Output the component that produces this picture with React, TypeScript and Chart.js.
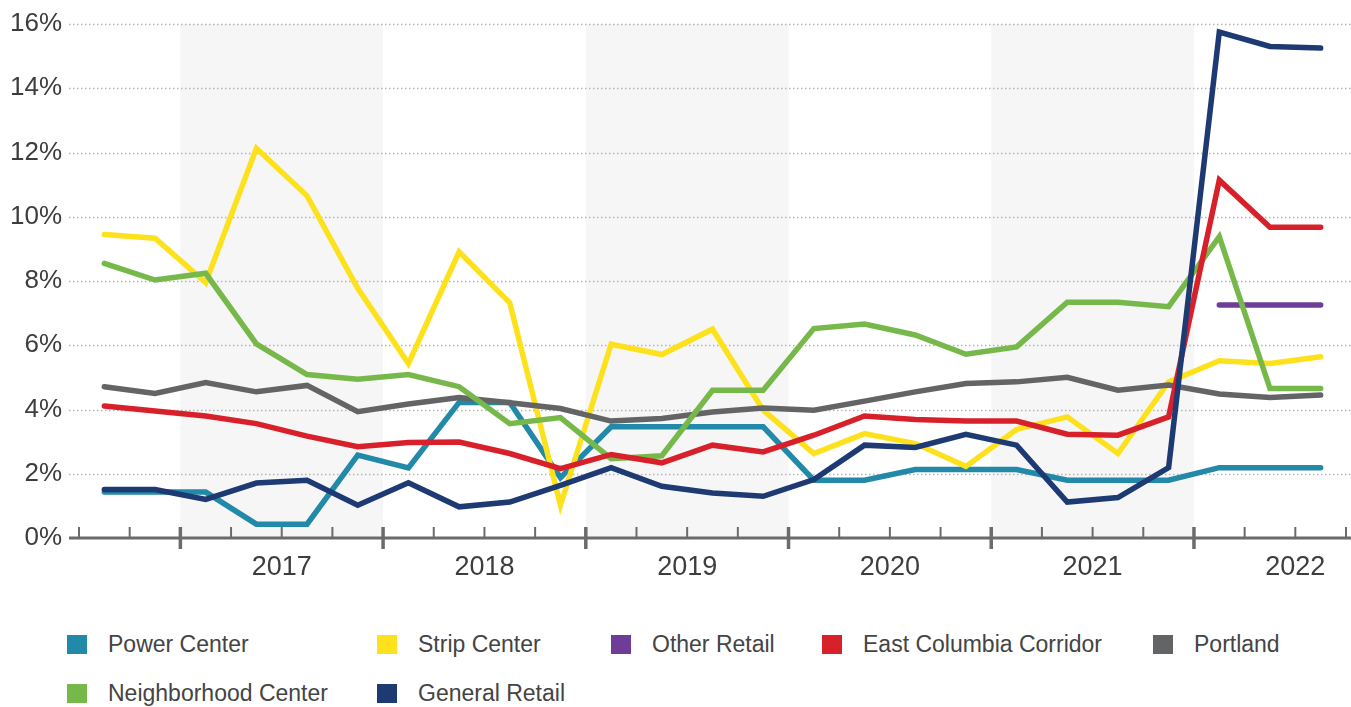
import React, { useEffect, useRef } from 'react';
import { Chart, registerables } from 'chart.js';

Chart.register(...registerables);

// ---- data ----
const quarters = [
  '2016 Q3', '2016 Q4',
  '2017 Q1', '2017 Q2', '2017 Q3', '2017 Q4',
  '2018 Q1', '2018 Q2', '2018 Q3', '2018 Q4',
  '2019 Q1', '2019 Q2', '2019 Q3', '2019 Q4',
  '2020 Q1', '2020 Q2', '2020 Q3', '2020 Q4',
  '2021 Q1', '2021 Q2', '2021 Q3', '2021 Q4',
  '2022 Q1', '2022 Q2', '2022 Q3',
];
const yearLabels = ['2017', '2018', '2019', '2020', '2021', '2022'];
const shadedYears = ['2017', '2019', '2021'];
const yTickValues = [0, 2, 4, 6, 8, 10, 12, 14, 16];

const powerCenter = [1.43, 1.43, 1.43, 0.43, 0.43, 2.58, 2.18, 4.22, 4.22, 1.88, 3.46, 3.46, 3.46, 3.46, 1.8, 1.8, 2.13, 2.13, 2.13, 1.8, 1.8, 1.8, 2.19, 2.19, 2.19];
const stripCenter = [9.45, 9.33, 7.95, 12.13, 10.65, 7.77, 5.43, 8.91, 7.32, 1.02, 6.03, 5.71, 6.5, 3.98, 2.63, 3.25, 2.94, 2.23, 3.38, 3.77, 2.63, 4.86, 5.52, 5.43, 5.64];
const otherRetail = [null, null, null, null, null, null, null, null, null, null, null, null, null, null, null, null, null, null, null, null, null, null, 7.25, 7.25, 7.25];
const eastColumbia = [4.11, 3.95, 3.8, 3.56, 3.17, 2.84, 2.97, 2.99, 2.63, 2.16, 2.6, 2.34, 2.89, 2.68, 3.2, 3.8, 3.69, 3.64, 3.64, 3.23, 3.2, 3.77, 11.14, 9.67, 9.67];
const portland = [4.71, 4.5, 4.84, 4.55, 4.75, 3.93, 4.17, 4.37, 4.21, 4.03, 3.64, 3.72, 3.92, 4.05, 3.98, 4.26, 4.55, 4.81, 4.86, 5.0, 4.6, 4.76, 4.48, 4.37, 4.45];
const neighborhood = [8.55, 8.03, 8.24, 6.04, 5.09, 4.94, 5.09, 4.71, 3.56, 3.75, 2.47, 2.56, 4.6, 4.6, 6.52, 6.66, 6.32, 5.72, 5.95, 7.34, 7.34, 7.2, 9.38, 4.65, 4.65];
const generalRetail = [1.51, 1.51, 1.2, 1.71, 1.8, 1.02, 1.72, 0.97, 1.12, 1.64, 2.19, 1.61, 1.4, 1.3, 1.82, 2.89, 2.82, 3.23, 2.89, 1.12, 1.26, 2.19, 15.75, 15.3, 15.25];

const seriesNames = ['Power Center', 'Strip Center', 'Other Retail', 'East Columbia Corridor', 'Portland', 'Neighborhood Center', 'General Retail'];
const seriesColors = ['#2289a8', '#fde11c', '#6e3d98', '#d8202b', '#636466', '#77b84b', '#1e3a72'];
const seriesValues = [powerCenter, stripCenter, otherRetail, eastColumbia, portland, neighborhood, generalRetail];
// draw order: first dataset ends up on top
const drawOrder = [6, 3, 5, 4, 1, 2, 0];

const FONT = '"Liberation Sans", Arial, Helvetica, sans-serif';
const TEXT = '#3d3d3d';

const decorPlugin = {
  id: 'decor',
  beforeDatasetsDraw(chart: any) {
    const { ctx, scales } = chart;
    const x = scales.x;
    const y = scales.y;
    const top = y.getPixelForValue(16);
    const base = y.getPixelForValue(0);
    ctx.save();
    // shaded year bands
    ctx.fillStyle = '#f6f6f6';
    shadedYears.forEach((yr) => {
      const j = yearLabels.indexOf(yr);
      const s = 1.5 + 4 * j;
      const x0 = x.getPixelForValue(s);
      const x1 = x.getPixelForValue(s + 4);
      ctx.fillRect(x0, top, x1 - x0, base - top);
    });
    // dotted gridlines
    ctx.strokeStyle = '#b4b4b4';
    ctx.lineWidth = 1.5;
    ctx.setLineDash([1.5, 2.5]);
    yTickValues.forEach((v) => {
      if (v === 0) return;
      const py = Math.round(y.getPixelForValue(v)) + 0.5;
      ctx.beginPath();
      ctx.moveTo(69, py);
      ctx.lineTo(chart.width, py);
      ctx.stroke();
    });
    ctx.setLineDash([]);
    // axis line
    ctx.strokeStyle = '#6b6b6b';
    ctx.lineWidth = 3;
    ctx.beginPath();
    ctx.moveTo(69, base);
    ctx.lineTo(chart.width, base);
    ctx.stroke();
    // tick marks at quarter boundaries
    for (let k = 0; k <= quarters.length; k++) {
      const v = -0.5 + k;
      const px = x.getPixelForValue(v);
      const major = ((v - 1.5) % 4 + 4) % 4 === 0;
      ctx.beginPath();
      if (major) {
        ctx.lineWidth = 3.5;
        ctx.moveTo(px, base - 11);
        ctx.lineTo(px, base + 11);
      } else {
        ctx.lineWidth = 2;
        ctx.moveTo(px, base - 11);
        ctx.lineTo(px, base);
      }
      ctx.stroke();
    }
    ctx.restore();
  },
};

function ChartCanvas() {
  const ref = useRef<HTMLCanvasElement | null>(null);
  useEffect(() => {
    if (!ref.current) return;
    const datasets = drawOrder.map((i) => ({
      label: seriesNames[i],
      data: seriesValues[i].map((v, q) => ({ x: q, y: v })),
      borderColor: seriesColors[i],
      backgroundColor: seriesColors[i],
      borderWidth: 5.5,
      pointRadius: 0,
      pointHoverRadius: 0,
      tension: 0,
      spanGaps: false,
      borderCapStyle: 'round' as const,
      borderJoinStyle: 'miter' as const,
      fill: false,
    }));
    const chart = new Chart(ref.current, {
      type: 'line',
      data: { datasets },
      plugins: [decorPlugin],
      options: {
        animation: false,
        responsive: false,
        events: [],
        layout: { autoPadding: false, padding: { top: 24, right: 5, left: 0, bottom: 0 } },
        plugins: { legend: { display: false }, tooltip: { enabled: false } },
        scales: {
          x: {
            type: 'linear',
            min: -0.5,
            max: quarters.length - 0.5,
            grid: { display: false, drawTicks: false },
            border: { display: false },
            afterBuildTicks: (scale: any) => {
              const t = [];
              for (let k = 0; k <= quarters.length; k++) t.push({ value: -0.5 + k });
              scale.ticks = t;
            },
            afterFit: (scale: any) => {
              scale.height = 62;
            },
            ticks: {
              autoSkip: false,
              maxRotation: 0,
              minRotation: 0,
              padding: 0,
              color: TEXT,
              font: { family: FONT, size: 27, lineHeight: 2.22 },
              callback: (value: any) => {
                const r = (Number(value) - 3.5) / 4;
                if (Number.isInteger(r) && r >= 0 && r < yearLabels.length) return yearLabels[r];
                return '';
              },
            },
          },
          y: {
            min: 0,
            max: 16,
            grid: { display: false, drawTicks: false },
            border: { display: false },
            afterBuildTicks: (scale: any) => {
              scale.ticks = yTickValues.map((v) => ({ value: v }));
            },
            afterFit: (scale: any) => {
              scale.width = 79;
            },
            ticks: {
              padding: 17,
              color: TEXT,
              font: { family: FONT, size: 26, lineHeight: 0.5 },
              callback: (value: any) => value + '%',
            },
          },
        },
      },
    });
    return () => chart.destroy();
  }, []);
  return <canvas ref={ref} width={1351} height={600} style={{ display: 'block' }} />;
}

export default function App() {
  const legendOrder = [0, 1, 2, 3, 4, 5, 6];
  return (
    <div style={{ position: 'absolute', left: 0, top: 0, width: 1351, height: 707, background: '#fff', overflow: 'hidden' }}>
      <ChartCanvas />
      <div
        style={{
          position: 'absolute',
          left: 67,
          top: 620,
          display: 'grid',
          gridTemplateColumns: '310px 234px 211px 331px auto',
          gridAutoRows: '49px',
          fontFamily: FONT,
          fontSize: 23,
          color: '#444',
        }}
      >
        {legendOrder.map((i) => (
          <div key={seriesNames[i]} style={{ display: 'flex', alignItems: 'center', whiteSpace: 'nowrap' }}>
            <span style={{ display: 'inline-block', width: 20, height: 19, background: seriesColors[i], marginRight: 21 }} />
            <span>{seriesNames[i]}</span>
          </div>
        ))}
      </div>
    </div>
  );
}
